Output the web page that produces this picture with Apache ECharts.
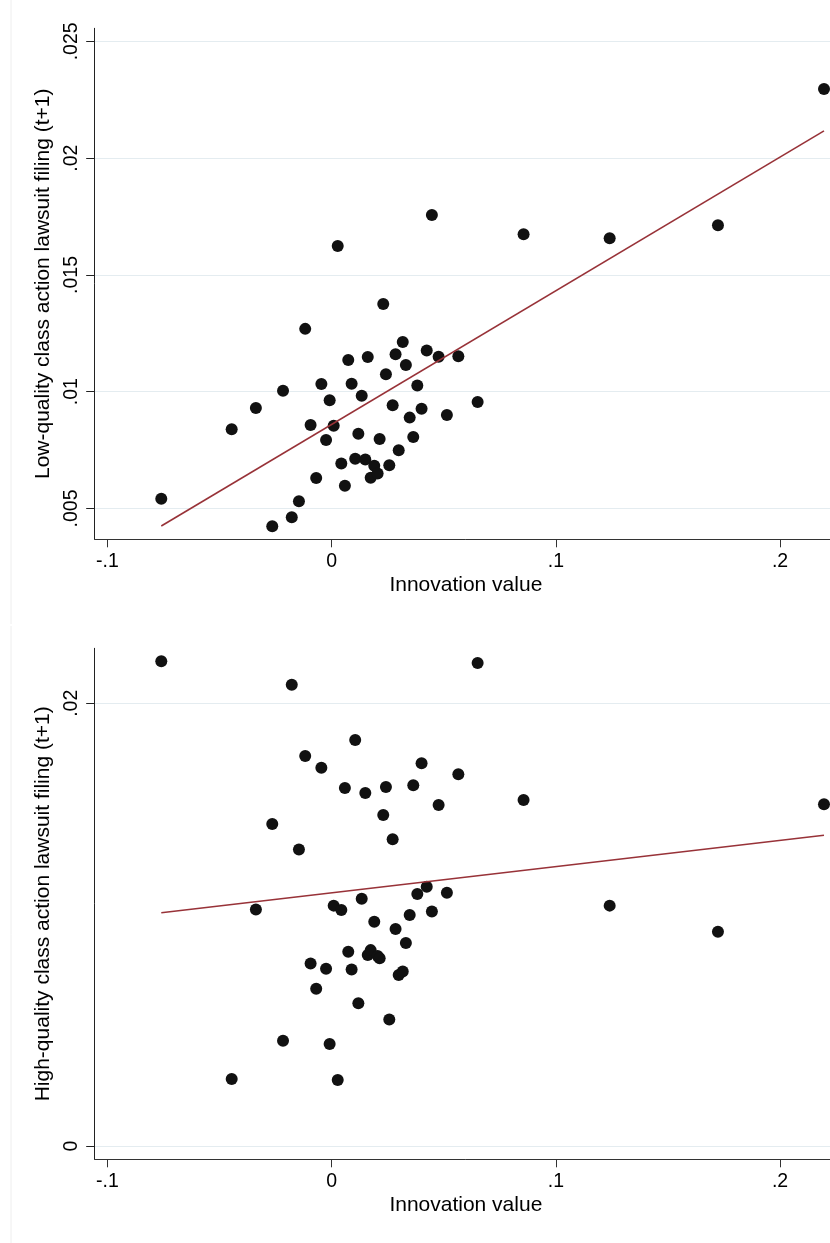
<!DOCTYPE html>
<html>
<head>
<meta charset="utf-8">
<script src="https://cdn.jsdelivr.net/npm/echarts@6/dist/echarts.min.js"></script>
<style>
  html, body { margin: 0; padding: 0; background: #fff; overflow: hidden; width: 830px; height: 1243px; }
  #chart { width: 840px; height: 1243px; }
</style>
</head>
<body>
<div id="chart"></div>
<script>
// Innovation value (x) shared by both panels
const innovation = [
  -0.0760, -0.0446, -0.0338, -0.0265, -0.0217, -0.0178, -0.0146, -0.0118, -0.0094, -0.0069,
  -0.0046, -0.0025, -0.0009, 0.0009, 0.0027, 0.0043, 0.0059, 0.0074, 0.0089, 0.0105,
  0.0119, 0.0134, 0.0150, 0.0161, 0.0174, 0.0190, 0.0205, 0.0214, 0.0230, 0.0242,
  0.0257, 0.0272, 0.0285, 0.0299, 0.0317, 0.0331, 0.0348, 0.0364, 0.0382, 0.0401,
  0.0424, 0.0447, 0.0477, 0.0514, 0.0565, 0.0651, 0.0856, 0.1240, 0.1723, 0.2196
];
// Low-quality class action lawsuit filing (t+1)
const lowQuality = [
  0.00542, 0.00839, 0.00930, 0.00424, 0.01004, 0.00462, 0.00531, 0.01269, 0.00857, 0.00630,
  0.01033, 0.00793, 0.00963, 0.00854, 0.01624, 0.00693, 0.00597, 0.01136, 0.01034, 0.00713,
  0.00820, 0.00983, 0.00710, 0.01149, 0.00632, 0.00683, 0.00650, 0.00797, 0.01376, 0.01075,
  0.00685, 0.00942, 0.01160, 0.00749, 0.01213, 0.01114, 0.00889, 0.00806, 0.01027, 0.00927,
  0.01176, 0.01757, 0.01150, 0.00900, 0.01152, 0.00956, 0.01674, 0.01657, 0.01713, 0.02296
];
// High-quality class action lawsuit filing (t+1)
const highQuality = [
  0.02190, 0.00303, 0.01069, 0.01455, 0.00476, 0.02084, 0.01340, 0.01762, 0.00825, 0.00711,
  0.01709, 0.00801, 0.00461, 0.01086, 0.00298, 0.01066, 0.01617, 0.00878, 0.00797, 0.01834,
  0.00645, 0.01117, 0.01595, 0.00863, 0.00885, 0.01013, 0.00858, 0.00848, 0.01495, 0.01622,
  0.00572, 0.01386, 0.00980, 0.00773, 0.00788, 0.00917, 0.01044, 0.01630, 0.01138, 0.01729,
  0.01171, 0.01059, 0.01541, 0.01144, 0.01679, 0.02182, 0.01563, 0.01086, 0.00968, 0.01544
];
// Fitted lines (endpoints)
const fitX = [-0.0760, 0.2196];
const fitLow = [0.00425, 0.02117];
const fitHigh = [0.01054, 0.01404];

// Tick labels
const xTicks = [-0.1, 0, 0.1, 0.2];
const lowTicks = [0.005, 0.01, 0.015, 0.02, 0.025];
const highTicks = [0, 0.02];

const xTitle = 'Innovation value';
const lowTitle = 'Low-quality class action lawsuit filing (t+1)';
const highTitle = 'High-quality class action lawsuit filing (t+1)';

const FONT = '"Liberation Sans", Arial, Helvetica, sans-serif';
const fmt = v => String(v).replace(/^(-?)0\./, '$1.');

function pairs(xs, ys) { return xs.map((x, i) => [x, ys[i]]); }

function xAxis(gridIndex) {
  return {
    type: 'value', gridIndex, min: -0.1057, max: 0.2254,
    name: xTitle, nameLocation: 'middle', nameGap: 35,
    nameTextStyle: { fontFamily: FONT, fontSize: 21, color: '#000' },
    axisLine: { show: true, onZero: false, lineStyle: { color: '#333', width: 1 } },
    axisTick: { show: true, length: 8, customValues: xTicks, lineStyle: { color: '#333' } },
    axisLabel: { customValues: xTicks, formatter: fmt, margin: 12, fontFamily: FONT, fontSize: 19.5, color: '#000' },
    splitLine: { show: false }
  };
}
function yAxis(gridIndex, min, max, ticks, title) {
  return {
    type: 'value', gridIndex, min, max,
    name: title, nameLocation: 'middle', nameGap: 37, nameRotate: 90,
    nameTextStyle: { fontFamily: FONT, fontSize: 21, color: '#000' },
    axisLine: { show: true, onZero: false, lineStyle: { color: '#222', width: 1 } },
    axisTick: { show: true, length: 8.5, customValues: ticks, lineStyle: { color: '#222' } },
    axisLabel: { customValues: ticks, formatter: fmt, rotate: 90, margin: 13, fontFamily: FONT, fontSize: 19.5, color: '#000' },
    splitLine: { show: true, lineStyle: { color: '#e4ecf0', width: 1.2 } }
  };
}

const chart = echarts.init(document.getElementById('chart'), null, { renderer: 'canvas', width: 840, height: 1243 });
chart.setOption({
  animation: false,
  backgroundColor: '#fff',
  graphic: [
    { type: 'line', shape: { x1: 11, y1: 0, x2: 11, y2: 624 }, style: { stroke: '#eeeeee', lineWidth: 1 } },
    { type: 'line', shape: { x1: 11, y1: 626, x2: 11, y2: 1243 }, style: { stroke: '#eeeeee', lineWidth: 1 } }
  ],
  grid: [
    { left: 94.7, top: 28.3, width: 742.3, height: 511, containLabel: false },
    { left: 94.7, top: 648.3, width: 742.3, height: 511, containLabel: false }
  ],
  xAxis: [xAxis(0), xAxis(1)],
  yAxis: [
    yAxis(0, 0.00368, 0.02556, lowTicks, lowTitle),
    yAxis(1, -0.0006, 0.022485, highTicks, highTitle)
  ],
  series: [
    { type: 'scatter', xAxisIndex: 0, yAxisIndex: 0, data: pairs(innovation, lowQuality),
      symbol: 'circle', symbolSize: 12, itemStyle: { color: '#111', opacity: 1 }, z: 2 },
    { type: 'line', xAxisIndex: 0, yAxisIndex: 0, data: pairs(fitX, fitLow),
      symbol: 'none', lineStyle: { color: '#983238', width: 1.6 }, z: 3 },
    { type: 'scatter', xAxisIndex: 1, yAxisIndex: 1, data: pairs(innovation, highQuality),
      symbol: 'circle', symbolSize: 12, itemStyle: { color: '#111', opacity: 1 }, z: 2 },
    { type: 'line', xAxisIndex: 1, yAxisIndex: 1, data: pairs(fitX, fitHigh),
      symbol: 'none', lineStyle: { color: '#983238', width: 1.6 }, z: 3 }
  ]
});
</script>
</body>
</html>
